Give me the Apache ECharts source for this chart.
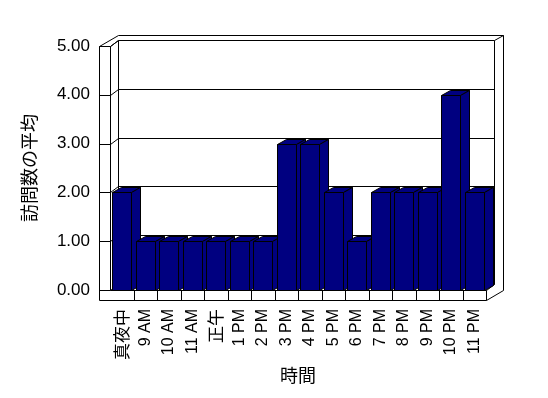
<!DOCTYPE html>
<html>
<head>
<meta charset="utf-8">
<script src="https://cdn.jsdelivr.net/npm/echarts@6/dist/echarts.min.js"></script>
<style>html,body{margin:0;padding:0;background:#fff;}#c{width:548px;height:398px;}</style>
</head>
<body>
<div id="c"></div>
<script>
const categories = ['真夜中','9 AM','10 AM','11 AM','正午','1 PM','2 PM','3 PM','4 PM','5 PM','6 PM','7 PM','8 PM','9 PM','10 PM','11 PM'];
const values = [2,1,1,1,1,1,1,3,3,2,1,2,2,2,4,2];
const yTicks = [0,1,2,3,4,5];
const yAxisTitle = '訪問数の平均';
const xAxisTitle = '時間';

const FONT = '"Liberation Sans", "Noto Sans CJK JP", sans-serif';
const px = v => Math.round(v) + 0.5;
const line = pts => ({type:'polyline', shape:{points:pts.map(p=>[px(p[0]),px(p[1])])}, style:{stroke:'#000', fill:null, lineWidth:1}, silent:true});

function renderFrame(params, api){
  const bw = api.size([1,0])[0];
  const c0 = api.coord([0,0]);
  const L = c0[0]-bw/2, R = L + bw*categories.length;
  const yv = v => api.coord([0,v])[1];
  const Y0 = yv(yTicks[0]), Y5 = yv(yTicks[yTicks.length-1]);
  const DX = 8, DY = -6, WT = 11, FT = 10, OX = 17, Yt = Y5 + DY - 5;
  const ch = [];
  yTicks.forEach(v => ch.push(line([[L+DX, yv(v)+DY],[R+DX, yv(v)+DY]])));
  ch.push(line([[L+DX, Y5+DY],[L+DX, Y0+DY]]));
  ch.push(line([[R+DX, Y5+DY],[R+DX, Y0+DY]]));
  ch.push(line([[L+DX, Yt],[R+OX, Yt]]));
  ch.push(line([[R+OX, Yt],[R+OX, Y0+FT-10]]));
  ch.push(line([[R+DX, Y5+DY],[R+OX, Yt]]));
  ch.push(line([[L-WT, Y5],[L-WT, Y0+FT]]));
  ch.push(line([[L, Y5],[L, Y0]]));
  ch.push(line([[L-WT, Y5],[L, Y5]]));
  ch.push(line([[L-WT, Y5],[L+DX, Yt]]));
  ch.push(line([[L, Y5],[L+DX, Y5+DY]]));
  yTicks.forEach(v => ch.push(line([[L-WT, yv(v)],[L, yv(v)],[L+DX, yv(v)+DY]])));
  ch.push(line([[L-WT, Y0+FT],[R, Y0+FT]]));
  ch.push(line([[L, Y0],[R, Y0]]));
  ch.push(line([[R, Y0+FT],[R+OX, Y0+FT-10]]));
  ch.push(line([[R, Y0],[R+DX, Y0+DY]]));
  for (let k=1;k<=categories.length;k++) ch.push(line([[L+k*bw, Y0],[L+k*bw, Y0+FT]]));
  return {type:'group', children:ch};
}

function renderBar(params, api){
  const top = api.coord([api.value(0), api.value(1)]);
  const base = api.coord([api.value(0), 0]);
  const w = 19, BX = 9, BY = -5;
  const x0 = px(top[0]-w/2), x1 = x0 + w, yt = px(top[1]), yb = px(base[1]);
  const st = {fill:'#000080', stroke:'#000', lineWidth:1};
  return {type:'group', children:[
    {type:'polygon', shape:{points:[[x0,yt],[x1,yt],[x1+BX,yt+BY],[x0+BX,yt+BY]]}, style:st},
    {type:'polygon', shape:{points:[[x1,yt],[x1+BX,yt+BY],[x1+BX,yb+BY],[x1,yb]]}, style:st},
    {type:'polygon', shape:{points:[[x0,yt],[x1,yt],[x1,yb],[x0,yb]]}, style:st}
  ]};
}

const isCJK = s => /[\u3000-\u9fff]/.test(s);

const chart = echarts.init(document.getElementById('c'), null, {renderer:'canvas'});
chart.setOption({
  animation:false,
  backgroundColor:'#fff',
  grid:{left:110, right:62, top:46, bottom:108, containLabel:false},
  xAxis:{type:'category', data:categories, axisLine:{show:false}, axisTick:{show:false},
    axisLabel:{rotate:90, margin:19, fontSize:16, color:'#000', fontFamily:FONT, interval:0,
      formatter: s => isCJK(s) ? '{c|' + s + '}' : s,
      rich:{c:{fontSize:17, color:'#000', fontFamily:'"Noto Sans CJK JP", sans-serif'}}},
    name:xAxisTitle, nameLocation:'middle', nameGap:78, nameTextStyle:{fontSize:18, color:'#000', fontFamily:FONT}},
  yAxis:{type:'value', min:yTicks[0], max:yTicks[yTicks.length-1], interval:1,
    axisLine:{show:false}, axisTick:{show:false}, splitLine:{show:false},
    axisLabel:{formatter:v=>v.toFixed(2), margin:20, fontSize:17, color:'#000', fontFamily:FONT},
    name:yAxisTitle, nameLocation:'middle', nameRotate:90, nameGap:70, nameTextStyle:{fontSize:18, color:'#000', fontFamily:FONT}},
  series:[
    {type:'custom', name:'frame', renderItem:renderFrame, data:[[0,0]], clip:false, silent:true, z:1},
    {type:'custom', name:'bars', renderItem:renderBar, data:values.map((v,i)=>[i,v]), clip:false, silent:true, z:2}
  ]
});
</script>
</body>
</html>
